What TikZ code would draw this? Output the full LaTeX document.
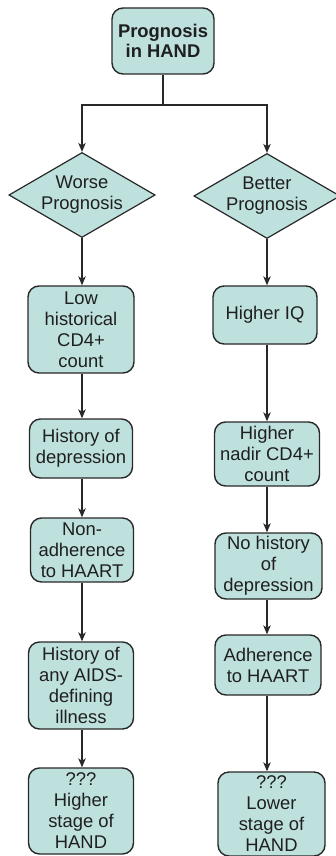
\documentclass[tikz,border=0pt]{standalone}
\usepackage{fontspec}
\setmainfont{Liberation Sans}
\usetikzlibrary{shapes.geometric,arrows.meta}
\definecolor{boxfill}{RGB}{190,225,222}
\definecolor{edge}{RGB}{40,40,40}
\begin{document}
\begin{tikzpicture}[x=1pt,y=-1pt,
  font=\fontsize{18.4}{21}\selectfont,
  stepbox/.style={draw=edge,line width=1.4pt,fill=boxfill,rounded corners=11pt,
    align=center,inner sep=0pt,text=black!88},
  choice/.style={draw=edge,line width=1.2pt,fill=boxfill,shape=diamond,aspect=1.72,
    align=center,inner sep=0pt,minimum width=146pt,minimum height=85pt,text=black!88},
  link/.style={draw=edge,line width=1.1pt},
  arr/.style={link,-{Stealth[length=9pt,width=7.5pt,inset=2.5pt]}}]
\useasboundingbox (0,0) rectangle (336,856);

% root
\node[stepbox,minimum width=102pt,minimum height=66pt,font=\fontsize{18.4}{20.5}\selectfont\bfseries]
  (root) at (163,41) {Prognosis\\in HAND};
\coordinate (split) at (163,105);

% branch decisions
\node[choice] (worse) at (82,195) {Worse\\Prognosis};
\node[choice] (better) at (267,196) {Better\\Prognosis};

% worse-prognosis column
\node[stepbox,minimum width=106pt,minimum height=87pt] (l1) at (81,329.5) {Low\\historical\\CD4+\\count};
\node[stepbox,minimum width=103pt,minimum height=59pt] (l2) at (81,448.5) {History of\\depression};
\node[stepbox,minimum width=103pt,minimum height=64pt] (l3) at (82,550) {Non-\\adherence\\to HAART};
\node[stepbox,minimum width=105pt,minimum height=87pt] (l4) at (81,685.5) {History of\\any AIDS-\\defining\\illness};
\node[stepbox,minimum width=105pt,minimum height=86pt] (l5) at (81,811) {???\\Higher\\stage of\\HAND};

% better-prognosis column
\node[stepbox,minimum width=104pt,minimum height=58pt] (r1) at (265,315) {Higher IQ};
\node[stepbox,minimum width=105pt,minimum height=64pt] (r2) at (267,454) {Higher\\nadir CD4+\\count};
\node[stepbox,minimum width=107pt,minimum height=66pt] (r3) at (268.5,566) {No history\\of\\depression};
\node[stepbox,minimum width=106pt,minimum height=60pt] (r4) at (268,665) {Adherence\\to HAART};
\node[stepbox,minimum width=107pt,minimum height=84pt] (r5) at (271.5,814) {???\\Lower\\stage of\\HAND};

% connectors
\draw[link] (root.south) -- (split);
\draw[arr] (split) -| (worse.north);
\draw[arr] (split) -| (better.north);

\draw[arr] (worse.south) -- (worse.south |- l1.north);
\draw[arr] (worse.south |- l1.south) -- (worse.south |- l2.north);
\draw[arr] (worse.south |- l2.south) -- (worse.south |- l3.north);
\draw[arr] (worse.south |- l3.south) -- (worse.south |- l4.north);
\draw[arr] (worse.south |- l4.south) -- (worse.south |- l5.north);

\draw[arr] (better.south) -- (better.south |- r1.north);
\draw[arr] (better.south |- r1.south) -- (better.south |- r2.north);
\draw[arr] (better.south |- r2.south) -- (better.south |- r3.north);
\draw[arr] (better.south |- r3.south) -- (better.south |- r4.north);
\draw[arr] (better.south |- r4.south) -- (better.south |- r5.north);
\end{tikzpicture}
\end{document}
